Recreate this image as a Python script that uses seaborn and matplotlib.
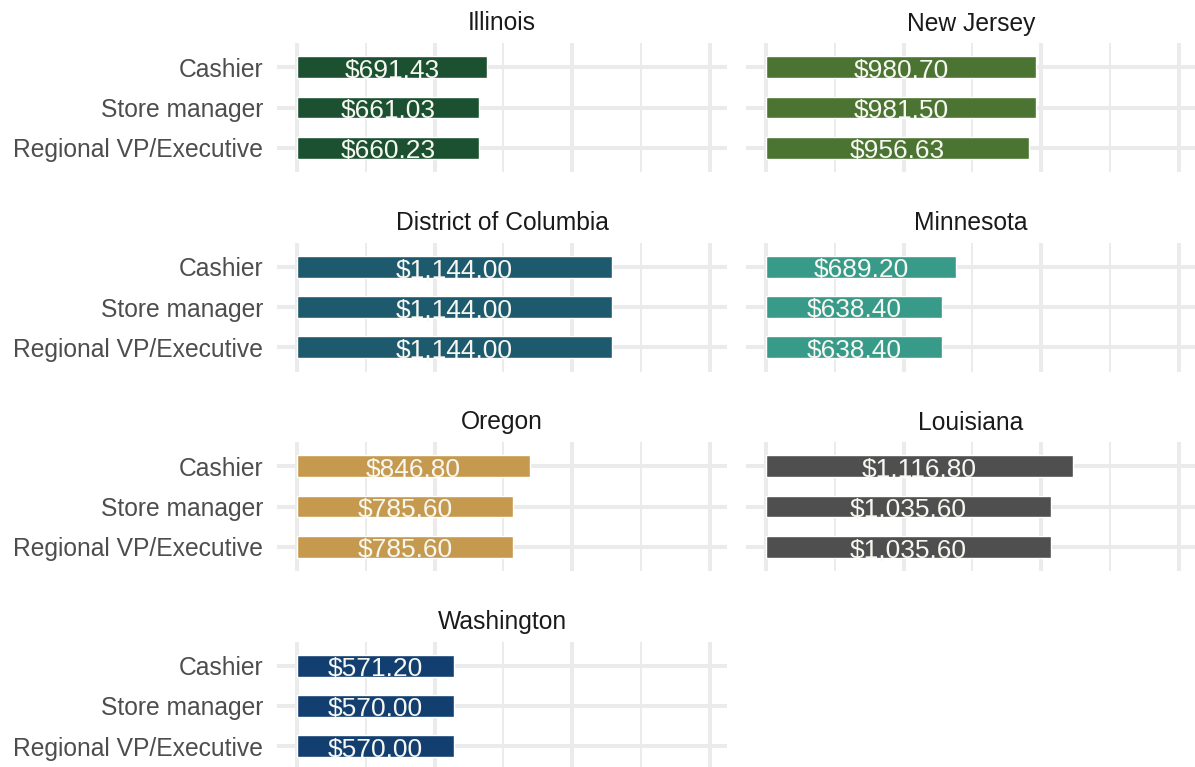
import matplotlib
matplotlib.use("Agg")
import matplotlib.pyplot as plt
import seaborn as sns
import pandas as pd

states = ["Illinois", "New Jersey", "District of Columbia", "Minnesota",
          "Oregon", "Louisiana", "Washington"]
roles = ["Cashier", "Store manager", "Regional VP/Executive"]
illinois = [691.43, 661.03, 660.23]
new_jersey = [980.70, 981.50, 956.63]
dc = [1144.00, 1144.00, 1144.00]
minnesota = [689.20, 638.40, 638.40]
oregon = [846.80, 785.60, 785.60]
louisiana = [1116.80, 1035.60, 1035.60]
washington = [571.20, 570.00, 570.00]
colors = ["#1b5131", "#4b7332", "#1e5a6e", "#389a89", "#c69a4e", "#4f4f4f", "#123f70"]

values = [illinois, new_jersey, dc, minnesota, oregon, louisiana, washington]
rows = []
for s, vals in zip(states, values):
    for r, v in zip(roles, vals):
        rows.append({"state": s, "role": r, "value": v})
df = pd.DataFrame(rows)

sns.set_theme(style="white")
plt.rcParams["font.family"] = ["Liberation Sans", "DejaVu Sans"]

W, H = 1195, 767
fig = plt.figure(figsize=(W / 100, H / 100), dpi=100)

col_left = [277, 746]
panel_w = 450
panel_h = 129
for i, s in enumerate(states):
    r, c = divmod(i, 2)
    top = 43 + 199.5 * r
    ax = fig.add_axes([col_left[c] / W, 1 - (top + panel_h) / H, panel_w / W, panel_h / H])
    sub = df[df["state"] == s]
    sns.barplot(data=sub, x="value", y="role", order=roles, color=colors[i],
                orient="h", width=0.54, ax=ax, saturation=1, errorbar=None)
    ax.set_xlim(-73, 1563)
    ax.set_ylim(2.6, -0.6)
    ax.set_xticks([0, 500, 1000, 1500])
    ax.set_xticks([250, 750, 1250], minor=True)
    ax.set_xticklabels([])
    ax.set_axisbelow(True)
    ax.grid(True, which="major", axis="both", color="#ebebeb", linewidth=2.9)
    ax.grid(True, which="minor", axis="x", color="#ebebeb", linewidth=1.4)
    ax.tick_params(axis="both", which="both", length=0)
    ax.tick_params(axis="y", pad=10, labelsize=17.7, labelcolor="#4d4d4d")
    if c == 1:
        ax.set_yticklabels([])
    for sp in ax.spines.values():
        sp.set_visible(False)
    ax.set_xlabel("")
    ax.set_ylabel("")
    ax.set_title(s, fontsize=17.7, color="#1a1a1a", pad=9)
    labels = [f"${v:,.2f}" for v in sub["value"]]
    anns = ax.bar_label(ax.containers[0], labels=labels, label_type="center",
                        color="#f7f7f2", fontsize=19)
    for a in anns:
        a.xyann = (0, -2.5)

fig.savefig("out.png", dpi=100)
